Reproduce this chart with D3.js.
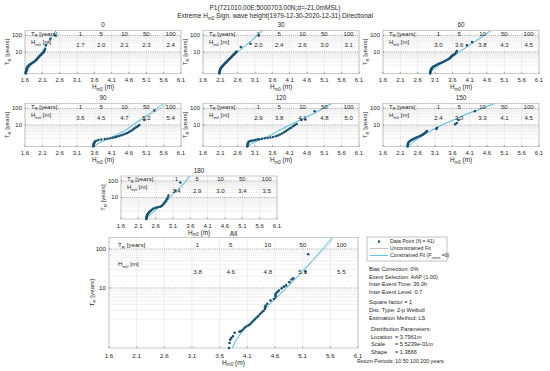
<!DOCTYPE html>
<html>
<head>
<meta charset="utf-8">
<script src="https://cdn.jsdelivr.net/npm/d3@7"></script>
<style>
  body { margin: 0; background: #fff; }
  svg { font-family: "Liberation Sans", Arial, sans-serif; }
</style>
</head>
<body>
<svg id="chart" width="550" height="371"></svg>
<script>
// ---- data ----
const xTicks = [1.6, 2.1, 2.6, 3.1, 3.6, 4.1, 4.6, 5.1, 5.6, 6.1];
const returnPeriods = [1, 5, 10, 50, 100];
const minorT = [2, 3, 4, 5, 6, 7, 8, 9, 20, 30, 40, 50, 60, 70, 80, 90];
const majorT = [10, 100];

// data points [Hm0, T_R]
const pts0 = [[1.62,1.12],[1.62,1.16],[1.63,1.2],[1.63,1.24],[1.64,1.29],[1.64,1.35],[1.65,1.42],[1.65,1.5],[1.66,1.58],[1.67,1.68],[1.68,1.79],[1.70,1.91],[1.72,2.05],[1.75,2.2],[1.78,2.37],[1.81,2.56],[1.84,2.76],[1.87,2.99],[1.90,3.25],[1.92,3.53],[1.94,3.85],[1.95,4.2],[1.97,4.6],[1.99,5.0],[2.01,5.5],[2.03,6.0],[2.05,6.6],[2.07,7.2],[2.09,7.9],[2.11,8.7],[2.13,9.5],[2.15,10.5],[2.16,12],[2.18,15],[2.20,25],[2.33,63],[2.47,100]];
const pts30 = [[2.07,1.12],[2.07,1.17],[2.08,1.22],[2.08,1.28],[2.09,1.35],[2.10,1.42],[2.11,1.5],[2.12,1.58],[2.13,1.68],[2.15,1.79],[2.17,1.91],[2.19,2.05],[2.21,2.2],[2.23,2.37],[2.25,2.56],[2.27,2.76],[2.29,2.99],[2.31,3.25],[2.33,3.53],[2.35,3.85],[2.37,4.2],[2.39,4.6],[2.41,5.0],[2.43,5.5],[2.45,6.0],[2.47,6.6],[2.49,7.2],[2.51,7.9],[2.53,8.7],[2.55,9.5],[2.57,10.5],[2.69,19.6],[2.97,31],[3.21,100]];
const pts60 = [[2.96,1.12],[2.96,1.16],[2.97,1.21],[2.97,1.27],[2.98,1.34],[2.99,1.42],[3.0,1.5],[3.02,1.6],[3.04,1.7],[3.07,1.8],[3.1,1.92],[3.14,2.05],[3.18,2.2],[3.22,2.37],[3.27,2.56],[3.31,2.76],[3.36,2.99],[3.40,3.25],[3.44,3.53],[3.48,3.85],[3.51,4.2],[3.53,4.6],[3.55,5.0],[3.57,5.5],[3.59,6.0],[3.62,6.6],[3.65,7.2],[3.68,7.9],[3.71,9.5],[3.73,11.5],[4.02,25],[4.17,39]];
const pts90 = [[3.57,1.12],[3.57,1.16],[3.58,1.2],[3.58,1.26],[3.59,1.33],[3.6,1.4],[3.62,1.5],[3.66,1.6],[3.72,1.7],[3.8,1.78],[3.9,1.85],[3.98,1.92],[4.06,2.0],[4.13,2.1],[4.2,2.2],[4.26,2.37],[4.32,2.56],[4.38,2.76],[4.44,2.99],[4.5,3.25],[4.55,3.6],[4.6,4.0],[4.65,4.5],[4.7,5.2],[4.74,6.0],[4.78,6.8],[4.82,7.6],[4.86,8.7],[4.9,10],[5.04,19.5],[5.33,74]];
const pts120 = [[2.88,1.12],[2.88,1.17],[2.89,1.23],[2.89,1.3],[2.9,1.38],[2.92,1.46],[2.95,1.52],[2.99,1.58],[3.04,1.64],[3.1,1.7],[3.16,1.76],[3.22,1.82],[3.3,1.9],[3.38,1.98],[3.46,2.06],[3.54,2.14],[3.62,2.25],[3.7,2.45],[3.76,2.7],[3.82,3.0],[3.88,3.4],[3.94,3.9],[3.99,4.5],[4.04,5.2],[4.09,6.0],[4.14,7.0],[4.2,8.3],[4.25,9.8],[4.3,11.5],[4.44,19.5],[4.55,21],[4.82,67]];
const pts150 = [[2.31,1.12],[2.31,1.17],[2.32,1.23],[2.32,1.3],[2.33,1.38],[2.35,1.46],[2.38,1.55],[2.41,1.65],[2.44,1.76],[2.48,1.88],[2.52,2.0],[2.56,2.15],[2.6,2.3],[2.65,2.45],[2.69,2.6],[2.72,2.8],[2.75,3.0],[2.78,3.3],[2.81,3.6],[2.84,4.0],[2.87,4.5],[3.14,5.8],[3.16,7.0],[3.68,11],[3.73,13],[3.78,19.5],[4.25,67]];
const pts180 = [[2.33,1.12],[2.33,1.16],[2.34,1.21],[2.34,1.27],[2.35,1.34],[2.36,1.42],[2.37,1.5],[2.39,1.6],[2.41,1.72],[2.43,1.85],[2.46,2.0],[2.49,2.2],[2.53,2.45],[2.58,2.65],[2.63,2.8],[2.68,2.95],[2.73,3.1],[2.77,3.4],[2.8,3.8],[2.83,4.4],[2.86,5.2],[2.89,6.3],[2.92,7.9],[2.95,10],[2.97,13],[3.17,25],[3.31,80]];
const ptsAll = [[3.77,1.02],[3.78,1.057],[3.79,1.10],[3.81,1.13],[3.84,1.17],[3.87,1.26],[3.96,1.3],[3.99,1.32],[4.02,1.38],[4.05,1.46],[4.08,1.52],[4.12,1.58],[4.15,1.64],[4.18,1.75],[4.21,1.87],[4.24,2.0],[4.27,2.15],[4.3,2.3],[4.33,2.52],[4.36,2.7],[4.39,2.9],[4.42,3.2],[4.42,3.5],[4.43,3.8],[4.46,4.2],[4.52,4.95],[4.58,5.4],[4.61,6.0],[4.61,6.6],[4.61,7.2],[4.64,7.9],[4.67,8.7],[4.72,9.8],[4.76,10.8],[4.8,11.6],[4.86,14],[4.9,16.3],[4.93,17.5],[5.15,26],[5.2,73]];

// constrained fits (cyan) [Hm0, T_R]
const fit0 = [[1.62,1.12],[1.7,1.5],[1.85,3],[2.0,5],[2.1,10],[2.3,50],[2.4,100],[2.5,200]];
const fit30 = [[2.06,1.12],[2.1,1.3],[2.25,2.5],[2.4,5],[2.6,10],[3.0,50],[3.15,100],[3.3,200]];
const fit60 = [[2.95,1.12],[3.05,1.4],[3.3,2.5],[3.6,5],[3.8,10],[4.3,50],[4.5,100],[4.7,200]];
const fit90 = [[3.6,1.12],[3.7,1.3],[4.1,2.2],[4.5,5],[4.7,10],[5.2,50],[5.4,100],[5.6,200]];
const fit120 = [[2.9,1.12],[3.0,1.3],[3.5,2.5],[3.8,5],[4.1,10],[4.8,50],[5.05,100],[5.3,200]];
const fit150 = [[2.35,1.12],[2.45,1.4],[2.75,2.7],[3.0,5],[3.3,10],[4.05,50],[4.45,100],[4.8,200]];
const fit180 = [[2.33,1.12],[2.4,1.3],[2.65,2.5],[2.9,5],[3.0,10],[3.35,50],[3.47,100],[3.56,200]];
const fitAll = [[3.808,1.005],[3.83,1.02],[3.86,1.05],[3.9,1.1],[4.006,1.3],[4.116,1.6],[4.22,2],[4.387,3],[4.574,5],[4.80,10],[5.014,20],[5.27,50],[5.46,100],[5.63,200]];

// unconstrained fits (grey)
const unc0 = [[1.62,1.12],[1.7,1.5],[1.86,3],[2.0,5],[2.1,10],[2.31,50],[2.41,100],[2.5,200]];
const unc30 = [[2.06,1.12],[2.1,1.3],[2.25,2.5],[2.41,5],[2.61,10],[3.02,50],[3.18,100],[3.34,200]];
const unc60 = [[2.95,1.12],[3.05,1.4],[3.3,2.5],[3.6,5],[3.81,10],[4.32,50],[4.53,100],[4.74,200]];
const unc90 = [[3.6,1.12],[3.7,1.3],[4.1,2.2],[4.5,5],[4.72,10],[5.28,50],[5.5,100],[5.72,200]];
const unc120 = [[2.9,1.12],[3.0,1.3],[3.5,2.5],[3.8,5],[4.1,10],[4.82,50],[5.08,100],[5.34,200]];
const unc150 = [[2.35,1.12],[2.45,1.4],[2.75,2.7],[3.0,5],[3.3,10],[4.08,50],[4.48,100],[4.84,200]];
const unc180 = [[2.33,1.12],[2.4,1.3],[2.65,2.5],[2.9,5],[3.0,10],[3.36,50],[3.49,100],[3.6,200]];
const uncAll = [[3.8,1.005],[3.86,1.05],[3.9,1.1],[4.0,1.3],[4.12,1.6],[4.22,2],[4.39,3],[4.58,5],[4.81,10],[5.02,20],[5.29,50],[5.49,100],[5.67,200]];

// return value tables (Hm0 at T_R = 1, 5, 10, 50, 100)
const tab0 = [1.7, 2.0, 2.1, 2.3, 2.4];
const tab30 = [2.0, 2.4, 2.6, 3.0, 3.1];
const tab60 = [3.0, 3.6, 3.8, 4.3, 4.5];
const tab90 = [3.6, 4.5, 4.7, 5.2, 5.4];
const tab120 = [2.9, 3.8, 4.1, 4.8, 5.0];
const tab150 = [2.4, 3.0, 3.3, 4.1, 4.5];
const tab180 = [2.4, 2.9, 3.0, 3.4, 3.5];
const tabAll = [3.8, 4.6, 4.8, 5.3, 5.5];

const infoLines = [
  ["Bias Correction: 0%", "Event Selection: AAP (1.00)", "Inter-Event Time: 36.0h", "Inter-Event Level: 0.7"],
  ["Square factor = 1", "Dist. Type: 2-p Weibull", "Estimation Method: LS"]
];
const distParams = [["Location", "= 3.7961m"], ["Scale", "= 5.5239e-01m"], ["Shape", "= 1.3866"]];

// ---- layout ----
const W = 156, H = 43;
const panels = [
  { name: "0",   pts: pts0,   fit: fit0,   unc: unc0,   tab: tab0,   left: 25,  top: 30.5,  w: W, h: H, tMin: 1.12 },
  { name: "30",  pts: pts30,  fit: fit30,  unc: unc30,  tab: tab30,  left: 203, top: 30.5,  w: W, h: H, tMin: 1.12 },
  { name: "60",  pts: pts60,  fit: fit60,  unc: unc60,  tab: tab60,  left: 383, top: 30.5,  w: W, h: H, tMin: 1.12 },
  { name: "90",  pts: pts90,  fit: fit90,  unc: unc90,  tab: tab90,  left: 25,  top: 103.5, w: W, h: H, tMin: 1.12 },
  { name: "120", pts: pts120, fit: fit120, unc: unc120, tab: tab120, left: 203, top: 103.5, w: W, h: H, tMin: 1.12 },
  { name: "150", pts: pts150, fit: fit150, unc: unc150, tab: tab150, left: 383, top: 103.5, w: W, h: H, tMin: 1.12 },
  { name: "180", pts: pts180, fit: fit180, unc: unc180, tab: tab180, left: 121, top: 176,   w: W, h: H, tMin: 1.12 },
  { name: "All", pts: ptsAll, fit: fitAll, unc: uncAll, tab: tabAll, left: 109, top: 237.5, w: 249, h: 110.5, tMin: 1.02, big: true }
];
const tabX = [3.2, 3.8, 4.47, 5.1, 5.8];

const svg = d3.select("#chart");
const TXT = "#262626";
const CYAN = "#4cc2ea";
const GREY = "#b4b4b4";
const DOT = "#16506f";

// Gumbel reduced variate for return period axis
const gum = t => -Math.log(-Math.log(1 - 1 / t));

function subText(sel, parts, fs) {
  // parts: [[text, isSub], ...]
  let down = false;
  parts.forEach(([t, sub]) => {
    const ts = sel.append("tspan").text(t);
    if (sub && !down) { ts.attr("dy", fs * 0.3).attr("font-size", fs * 0.7); down = true; }
    else if (sub) { ts.attr("font-size", fs * 0.7); }
    else if (down) { ts.attr("dy", -fs * 0.3); down = false; }
  });
}

// main title
svg.append("text").attr("x", 275).attr("y", 10).attr("text-anchor", "middle")
  .attr("font-size", 6.5).attr("fill", TXT)
  .text("P1(721010.00E;5000703.00N;d=-21.0mMSL)");
subText(svg.append("text").attr("x", 275).attr("y", 18).attr("text-anchor", "middle")
  .attr("font-size", 6.5).attr("fill", TXT),
  [["Extreme H", false], ["m0", true], [" Sign. wave height(1979-12-30-2020-12-31) Directional", false]], 6.5);

panels.forEach((p, i) => {
  const x = d3.scaleLinear().domain([1.6, 6.1]).range([p.left, p.left + p.w]);
  const y = d3.scaleLinear().domain([gum(p.tMin), gum(200)]).range([p.top + p.h, p.top]);
  const g = svg.append("g");
  const fs = p.big ? 6.2 : 6;

  const clipId = "clip" + i;
  svg.append("clipPath").attr("id", clipId).append("rect")
    .attr("x", p.left).attr("y", p.top).attr("width", p.w).attr("height", p.h);

  g.append("rect").attr("x", p.left).attr("y", p.top).attr("width", p.w).attr("height", p.h)
    .attr("fill", "#fff");

  // grid
  g.selectAll(".vg").data(xTicks).join("line")
    .attr("x1", d => x(d)).attr("x2", d => x(d))
    .attr("y1", p.top).attr("y2", p.top + p.h)
    .attr("stroke", "#e3e3e3").attr("stroke-width", 0.6);
  g.selectAll(".mg").data(minorT).join("line")
    .attr("x1", p.left).attr("x2", p.left + p.w)
    .attr("y1", d => y(gum(d))).attr("y2", d => y(gum(d)))
    .attr("stroke", "#e6e6e6").attr("stroke-width", 0.6);
  g.selectAll(".Mg").data(majorT).join("line")
    .attr("x1", p.left).attr("x2", p.left + p.w)
    .attr("y1", d => y(gum(d))).attr("y2", d => y(gum(d)))
    .attr("stroke", "#6a6a6a").attr("stroke-width", 0.6).attr("stroke-dasharray", "1,1.2");

  g.append("rect").attr("x", p.left).attr("y", p.top).attr("width", p.w).attr("height", p.h)
    .attr("fill", "none").attr("stroke", "#a8a8a8").attr("stroke-width", 0.6);

  // ticks
  g.selectAll(".xt").data(xTicks).join("line")
    .attr("x1", d => x(d)).attr("x2", d => x(d))
    .attr("y1", p.top + p.h).attr("y2", p.top + p.h - 1.5)
    .attr("stroke", "#555").attr("stroke-width", 0.5);
  g.selectAll(".yt").data(majorT).join("line")
    .attr("x1", p.left).attr("x2", p.left + 1.5)
    .attr("y1", d => y(gum(d))).attr("y2", d => y(gum(d)))
    .attr("stroke", "#555").attr("stroke-width", 0.5);

  // fits
  const line = d3.line().x(d => x(d[0])).y(d => y(gum(d[1])));
  const lg = g.append("g").attr("clip-path", `url(#${clipId})`);
  lg.append("path").attr("d", line(p.unc)).attr("fill", "none").attr("stroke", GREY).attr("stroke-width", 0.8);
  lg.append("path").attr("d", line(p.fit)).attr("fill", "none").attr("stroke", CYAN).attr("stroke-width", 0.9);

  // points
  g.selectAll(".pt").data(p.pts).join("circle")
    .attr("cx", d => x(d[0])).attr("cy", d => y(gum(d[1])))
    .attr("r", p.big ? 1.3 : 1.25).attr("fill", DOT);

  // tick labels
  g.selectAll(".xl").data(xTicks).join("text")
    .attr("x", d => x(d)).attr("y", p.top + p.h + (p.big ? 9.5 : 8.5))
    .attr("text-anchor", "middle").attr("font-size", fs).attr("fill", TXT)
    .text(d => d.toFixed(1));
  g.selectAll(".yl").data(majorT).join("text")
    .attr("x", p.left - 3).attr("y", d => y(gum(d)) + 2)
    .attr("text-anchor", "end").attr("font-size", fs).attr("fill", TXT)
    .text(d => d);

  // axis labels
  subText(g.append("text").attr("x", p.left + p.w / 2).attr("y", p.top + p.h + (p.big ? 16.5 : 15.5))
    .attr("text-anchor", "middle").attr("font-size", fs + 0.4).attr("fill", TXT),
    [["H", false], ["m0", true], ["  (m)", false]], fs + 0.4);
  const ylx = p.left - (p.big ? 15 : 16);
  const yly = p.top + p.h / 2;
  subText(g.append("text").attr("transform", `translate(${ylx},${yly}) rotate(-90)`)
    .attr("text-anchor", "middle").attr("font-size", fs).attr("fill", TXT),
    [["T", false], ["R", true], [" [years]", false]], fs);

  // panel title
  g.append("text").attr("x", p.left + p.w / 2).attr("y", p.top - (p.big ? 2 : 3.5))
    .attr("text-anchor", "middle").attr("font-size", fs + 0.4).attr("fill", TXT)
    .text(p.name);

  // return value table
  const tx = p.left + (p.big ? 9 : 6);
  subText(g.append("text").attr("x", tx).attr("y", y(gum(128)) + 2)
    .attr("font-size", fs).attr("fill", TXT),
    [["T", false], ["R", true], [" [years]", false]], fs);
  subText(g.append("text").attr("x", tx).attr("y", y(gum(40)) + 2)
    .attr("font-size", fs).attr("fill", TXT),
    [["H", false], ["m0", true], ["  [m]", false]], fs);
  g.selectAll(".rp").data(returnPeriods).join("text")
    .attr("x", (d, k) => x(tabX[k])).attr("y", y(gum(128)) + 2)
    .attr("text-anchor", "middle").attr("font-size", fs).attr("fill", TXT)
    .text(d => d);
  g.selectAll(".rv").data(p.tab).join("text")
    .attr("x", (d, k) => x(tabX[k])).attr("y", y(gum(26)) + 2)
    .attr("text-anchor", "middle").attr("font-size", fs).attr("fill", TXT)
    .text(d => d.toFixed(1));
});

// legend
const lgX = 367, lgY = 237;
const leg = svg.append("g");
leg.append("rect").attr("x", lgX).attr("y", lgY).attr("width", 80).attr("height", 24)
  .attr("fill", "#fff").attr("stroke", "#9a9a9a").attr("stroke-width", 0.6);
leg.append("circle").attr("cx", lgX + 12).attr("cy", lgY + 4.5).attr("r", 1.2).attr("fill", DOT);
leg.append("line").attr("x1", lgX + 3).attr("x2", lgX + 21).attr("y1", lgY + 11.5).attr("y2", lgY + 11.5)
  .attr("stroke", GREY).attr("stroke-width", 0.8);
leg.append("line").attr("x1", lgX + 3).attr("x2", lgX + 21).attr("y1", lgY + 18.5).attr("y2", lgY + 18.5)
  .attr("stroke", CYAN).attr("stroke-width", 0.9);
const lfs = 5.2;
leg.append("text").attr("x", lgX + 23).attr("y", lgY + 6.3).attr("font-size", lfs).attr("fill", TXT)
  .text("Data Point (N = 41)");
leg.append("text").attr("x", lgX + 23).attr("y", lgY + 13.3).attr("font-size", lfs).attr("fill", TXT)
  .text("Unconstrained Fit");
subText(leg.append("text").attr("x", lgX + 23).attr("y", lgY + 20.3).attr("font-size", lfs).attr("fill", TXT),
  [["Constrained Fit (F", false], ["const", true], [" =0)", false]], lfs);

// info text
const ifs = 5.6;
let iy = 271;
infoLines.forEach(block => {
  block.forEach(t => {
    svg.append("text").attr("x", 369).attr("y", iy).attr("font-size", ifs).attr("fill", TXT).text(t);
    iy += 7.6;
  });
  iy += 3;
});
svg.append("text").attr("x", 371).attr("y", 331).attr("font-size", ifs).attr("fill", TXT)
  .text("Distribution Parameters:");
distParams.forEach((d, k) => {
  svg.append("text").attr("x", 371).attr("y", 338.5 + k * 7.5).attr("font-size", ifs).attr("fill", TXT).text(d[0]);
  svg.append("text").attr("x", 395).attr("y", 338.5 + k * 7.5).attr("font-size", ifs).attr("fill", TXT).text(d[1]);
});
svg.append("text").attr("x", 357).attr("y", 363).attr("font-size", 5.3).attr("fill", TXT)
  .text("Return Periods: 10  50  100  200 years");
</script>
</body>
</html>
